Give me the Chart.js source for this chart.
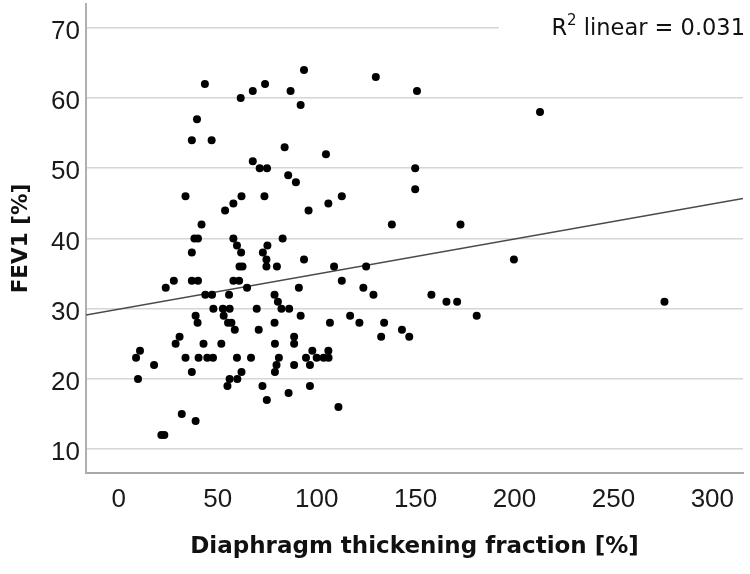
<!DOCTYPE html>
<html><head><meta charset="utf-8">
<script src="https://cdn.jsdelivr.net/npm/chart.js@4/dist/chart.umd.min.js"></script>
<style>html,body{margin:0;padding:0;background:#fff}</style>
</head><body>
<canvas id="c" width="750" height="574"></canvas>
<script>
// Diaphragm thickening fraction [%] (x) and FEV1 [%] (y) for each patient
const tfx = [
  43.5,61.6,67.7,73.9,86.8,91.9,93.6,39.5,36.9,46.9,83.8,67.7,71.2,74.9,85.6,89.5,
  33.7,62.0,57.9,53.7,73.6,41.8,38.2,40.0,57.9,59.7,61.8,36.9,75.1,72.8,74.6,74.6,
  79.9,82.8,61.0,62.5,93.6,23.7,27.8,36.9,40.0,57.9,60.8,64.8,43.7,47.1,55.7,78.7,
  80.4,82.2,86.1,91.0,91.9,47.8,52.6,56.0,69.7,38.8,39.8,53.0,55.2,56.9,70.7,78.7,
  58.6,88.6,88.6,78.9,30.7,28.7,42.8,51.8,10.7,8.7,17.8,33.7,40.3,44.7,47.6,59.7,
  66.8,80.9,79.7,78.9,88.6,36.9,9.7,62.0,59.9,56.0,54.9,72.6,74.8,85.8,31.8,38.8,
  21.5,23.0,129.9,150.7,104.7,149.8,149.8,112.7,105.9,95.9,138.0,172.7,199.7,108.8,
  125.0,112.7,123.6,128.7,158.0,165.6,171.0,116.9,180.9,106.7,121.6,134.1,143.1,
  146.8,132.6,97.8,105.9,94.6,100.0,103.5,106.0,96.6,96.6,111.0,212.9,275.8
];
const fev1 = [
  62,60,61,62,61,59,64,57,54,54,53,51,50,50,49,48,
  46,46,45,44,46,42,40,40,40,39,38,38,39,38,37,36,
  36,40,36,36,37,33,34,34,34,34,34,33,32,32,32,32,
  31,30,30,33,29,30,30,30,30,29,28,29,28,28,27,28,
  27,26,25,25,26,25,25,25,24,23,22,23,23,23,23,23,
  23,23,22,21,22,21,20,21,20,20,19,19,17,18,15,14,
  12,12,63,61,52,50,47,46,45,44,42,42,37,36,
  36,34,33,32,32,31,31,29,29,28,28,28,27,
  26,26,24,24,23,23,23,23,22,19,16,58,31
];
// Linear fit line end points
const fitX = [-16.6, 315.5];
const fitY = [29.1, 45.7];
const xTicks = [0, 50, 100, 150, 200, 250, 300];
const yTicks = [10, 20, 30, 40, 50, 60, 70];
const xTitle = 'Diaphragm thickening fraction [%]';
const yTitle = 'FEV1 [%]';
const r2Parts = ['R', '2', ' linear = 0.031'];

const points = tfx.map((x, i) => ({x: x, y: fev1[i]}));
const fitLine = fitX.map((x, i) => ({x: x, y: fitY[i]}));

const r2Plugin = {
  id: 'r2',
  afterDraw(chart) {
    const ctx = chart.ctx;
    const ys = chart.scales.y;
    const gy = ys.getPixelForValue(yTicks[yTicks.length - 1]);
    ctx.save();
    ctx.fillStyle = '#fff';
    ctx.fillRect(499, gy - 4, chart.chartArea.right - 499 + 1, 8);
    const big = '22.5px "DejaVu Sans"';
    const small = '15px "DejaVu Sans"';
    ctx.font = big; const w0 = ctx.measureText(r2Parts[0]).width; const w2 = ctx.measureText(r2Parts[2]).width;
    ctx.font = small; const w1 = ctx.measureText(r2Parts[1]).width;
    const right = 745, base = 35;
    let x = right - (w0 + w1 + w2);
    ctx.fillStyle = '#111';
    ctx.textBaseline = 'alphabetic';
    ctx.textAlign = 'left';
    ctx.font = big; ctx.fillText(r2Parts[0], x, base); x += w0;
    ctx.font = small; ctx.fillText(r2Parts[1], x, base - 10); x += w1;
    ctx.font = big; ctx.fillText(r2Parts[2], x, base);
    ctx.restore();
  }
};

new Chart(document.getElementById('c'), {
  type: 'scatter',
  data: {
    datasets: [
      {
        data: points,
        pointRadius: 4,
        pointHoverRadius: 4,
        backgroundColor: '#000',
        borderWidth: 0,
        order: 1
      },
      {
        data: fitLine,
        showLine: true,
        borderColor: '#4a4a4a',
        borderWidth: 1.4,
        pointRadius: 0,
        pointHoverRadius: 0,
        fill: false,
        order: 2
      }
    ]
  },
  options: {
    responsive: false,
    animation: false,
    devicePixelRatio: 1,
    layout: {padding: {top: 3, right: 7, left: 0, bottom: 0}},
    plugins: {legend: {display: false}, tooltip: {enabled: false}},
    scales: {
      x: {
        type: 'linear',
        min: -16.6,
        max: 315.5,
        afterBuildTicks: s => { s.ticks = xTicks.map(v => ({value: v})); },
        afterFit: s => { s.height = 101; s.paddingLeft = 0; s.paddingRight = 0; },
        grid: {display: false, drawTicks: false},
        border: {display: true, color: '#a8a8a8', width: 2},
        ticks: {
          font: {family: '"Liberation Sans", Arial, sans-serif', size: 26},
          color: '#1a1a1a', padding: 11, maxRotation: 0, autoSkip: false
        },
        title: {
          display: true, text: xTitle, color: '#111',
          font: {family: '"DejaVu Sans", sans-serif', size: 23, weight: 'bold'},
          padding: {top: 0, bottom: 13}
        }
      },
      y: {
        type: 'linear',
        min: 6.6,
        max: 73.4,
        afterBuildTicks: s => { s.ticks = yTicks.map(v => ({value: v})); },
        afterFit: s => { s.width = 86; s.paddingTop = 0; s.paddingBottom = 0; },
        grid: {color: '#d6d6d6', lineWidth: 1.6, drawTicks: false},
        border: {display: true, color: '#b0b0b0', width: 2},
        ticks: {
          font: {family: '"Liberation Sans", Arial, sans-serif', size: 26},
          color: '#1a1a1a', padding: 6, labelOffset: 4, autoSkip: false
        },
        title: {
          display: true, text: yTitle, color: '#111',
          font: {family: '"DejaVu Sans", sans-serif', size: 21.5, weight: 'bold'},
          padding: {top: 9, bottom: 0}
        }
      }
    }
  },
  plugins: [r2Plugin]
});
</script>
</body></html>
